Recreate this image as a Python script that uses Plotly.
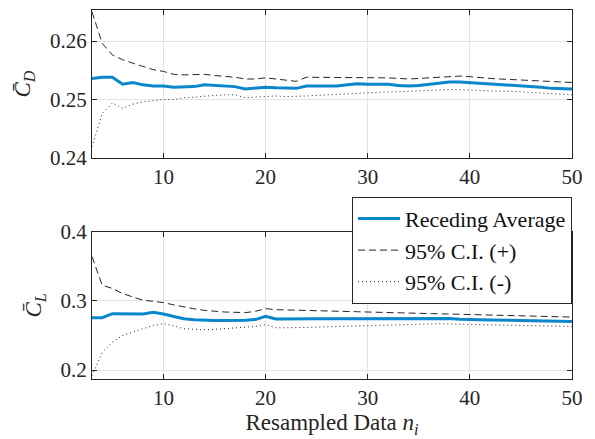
import plotly.graph_objects as go
from plotly.subplots import make_subplots

n = list(range(3, 51))

cd_mean = [0.2536, 0.2538, 0.2538, 0.2526, 0.2529, 0.2525, 0.2523, 0.2523, 0.2521, 0.2522, 0.2522, 0.2525, 0.2524, 0.2523, 0.2522, 0.2518, 0.2519, 0.2521, 0.2520, 0.2520, 0.2519, 0.2523, 0.2523, 0.2523, 0.2523, 0.2525, 0.2527, 0.2526, 0.2526, 0.2526, 0.2524, 0.2523, 0.2524, 0.2526, 0.2528, 0.2530, 0.2530, 0.2529, 0.2527, 0.2526, 0.2525, 0.2525, 0.2524, 0.2523, 0.2521, 0.2519, 0.2518, 0.2518]
cd_up = [0.2650, 0.2596, 0.2576, 0.2568, 0.2562, 0.2556, 0.2551, 0.2548, 0.2543, 0.2542, 0.2542, 0.2543, 0.2541, 0.2540, 0.2538, 0.2535, 0.2535, 0.2537, 0.2535, 0.2533, 0.2531, 0.2538, 0.2538, 0.2537, 0.2537, 0.2538, 0.2538, 0.2538, 0.2537, 0.2537, 0.2536, 0.2535, 0.2536, 0.2537, 0.2539, 0.2540, 0.2540, 0.2539, 0.2537, 0.2536, 0.2535, 0.2534, 0.2533, 0.2532, 0.2531, 0.2530, 0.2529, 0.2529]
cd_lo = [0.2419, 0.2476, 0.2494, 0.2485, 0.2492, 0.2496, 0.2498, 0.2500, 0.2500, 0.2503, 0.2504, 0.2506, 0.2507, 0.2508, 0.2508, 0.2503, 0.2504, 0.2506, 0.2506, 0.2505, 0.2505, 0.2506, 0.2507, 0.2508, 0.2509, 0.2510, 0.2511, 0.2512, 0.2512, 0.2513, 0.2513, 0.2514, 0.2514, 0.2515, 0.2516, 0.2517, 0.2517, 0.2516, 0.2515, 0.2515, 0.2514, 0.2514, 0.2513, 0.2512, 0.2511, 0.2510, 0.2509, 0.2508]

cl_mean = [0.2757, 0.2757, 0.2815, 0.2812, 0.2812, 0.2812, 0.2834, 0.2810, 0.2775, 0.2742, 0.2728, 0.2718, 0.2718, 0.2718, 0.2718, 0.2720, 0.2730, 0.2776, 0.2737, 0.2740, 0.2740, 0.2740, 0.2741, 0.2741, 0.2741, 0.2741, 0.2742, 0.2742, 0.2743, 0.2745, 0.2747, 0.2748, 0.2749, 0.2750, 0.2751, 0.2745, 0.2736, 0.2728, 0.2726, 0.2724, 0.2722, 0.2720, 0.2718, 0.2715, 0.2712, 0.2709, 0.2706, 0.2703]
cl_up = [0.3640, 0.3227, 0.3180, 0.3106, 0.3057, 0.3009, 0.2994, 0.2975, 0.2943, 0.2911, 0.2885, 0.2863, 0.2850, 0.2839, 0.2835, 0.2830, 0.2849, 0.2888, 0.2873, 0.2868, 0.2863, 0.2863, 0.2863, 0.2858, 0.2853, 0.2848, 0.2843, 0.2839, 0.2836, 0.2833, 0.2830, 0.2826, 0.2823, 0.2820, 0.2816, 0.2812, 0.2808, 0.2805, 0.2801, 0.2797, 0.2793, 0.2789, 0.2785, 0.2781, 0.2777, 0.2773, 0.2769, 0.2766]
cl_lo = [0.1917, 0.2256, 0.2402, 0.2500, 0.2548, 0.2597, 0.2645, 0.2670, 0.2640, 0.2597, 0.2585, 0.2582, 0.2588, 0.2597, 0.2605, 0.2620, 0.2630, 0.2655, 0.2611, 0.2611, 0.2611, 0.2615, 0.2620, 0.2625, 0.2630, 0.2635, 0.2640, 0.2645, 0.2648, 0.2652, 0.2656, 0.2660, 0.2664, 0.2668, 0.2670, 0.2665, 0.2662, 0.2660, 0.2657, 0.2654, 0.2651, 0.2648, 0.2645, 0.2642, 0.2639, 0.2636, 0.2633, 0.2630]

x_ticks = [10, 20, 30, 40, 50]
cd_ticks = [0.24, 0.25, 0.26]
cl_ticks = [0.2, 0.3, 0.4]

BLUE = "#0a87cc"
DARK = "#262626"
FONT = "Liberation Serif, Times New Roman, serif"

fig = make_subplots(rows=2, cols=1, vertical_spacing=0.0)

for row, (m, u, l) in enumerate([(cd_mean, cd_up, cd_lo), (cl_mean, cl_up, cl_lo)], start=1):
    show = row == 2
    fig.add_trace(go.Scatter(x=n, y=m, mode="lines", line=dict(color=BLUE, width=3),
                             name="Receding Average", showlegend=show), row=row, col=1)
    fig.add_trace(go.Scatter(x=n, y=u, mode="lines", line=dict(color=DARK, width=1, dash="7px,4px"),
                             name="95% C.I. (+)", showlegend=show), row=row, col=1)
    fig.add_trace(go.Scatter(x=n, y=l, mode="lines", line=dict(color=DARK, width=1, dash="1px,3px"),
                             name="95% C.I. (-)", showlegend=show), row=row, col=1)

axis_common = dict(showline=True, linecolor=DARK, linewidth=1, mirror="ticks",
                   ticks="inside", ticklen=5, tickcolor=DARK, automargin=False,
                   showgrid=True, gridcolor="#e3e3e3", gridwidth=1, zeroline=False,
                   tickfont=dict(family=FONT, size=21, color=DARK))

fig.update_xaxes(**axis_common, range=[3, 50], tickvals=x_ticks)
fig.update_layout(
    xaxis=dict(domain=[0, 1], anchor="y"),
    yaxis=dict(domain=[0.599, 1.0], range=[0.24, 0.2653], tickvals=cd_ticks,
               ticktext=["0.24", "0.25", "0.26"], **axis_common,
               title=dict(text="<i>C̄</i><sub><i>D</i></sub>", font=dict(family=FONT, size=23, color=DARK), standoff=12)),
    xaxis2=dict(domain=[0, 1], anchor="y2",
                title=dict(text="Resampled Data <i>n</i><sub><i>i</i></sub>", font=dict(family=FONT, size=23, color=DARK), standoff=3)),
    yaxis2=dict(domain=[0.0, 0.399], range=[0.187, 0.4], tickvals=cl_ticks,
                ticktext=["0.2", "0.3", "0.4"], **axis_common,
                title=dict(text="<i>C̄</i><sub><i>L</i></sub>", font=dict(family=FONT, size=23, color=DARK), standoff=12)),
)

# the page body adds an 8px offset, so the figure is 8px smaller and margins shifted
fig.update_layout(
    width=587, height=431,
    margin=dict(l=84, r=23, t=2, b=60),
    plot_bgcolor="white", paper_bgcolor="white",
    font=dict(family=FONT, size=21, color=DARK),
    legend=dict(x=1.0, xanchor="right", y=(369 - 186.7) / 369, yanchor="top",
                bgcolor="white", bordercolor=DARK, borderwidth=1,
                font=dict(family=FONT, size=22, color="#111111"),
                tracegroupgap=0, itemwidth=42),
)

fig.write_html("out.html")
